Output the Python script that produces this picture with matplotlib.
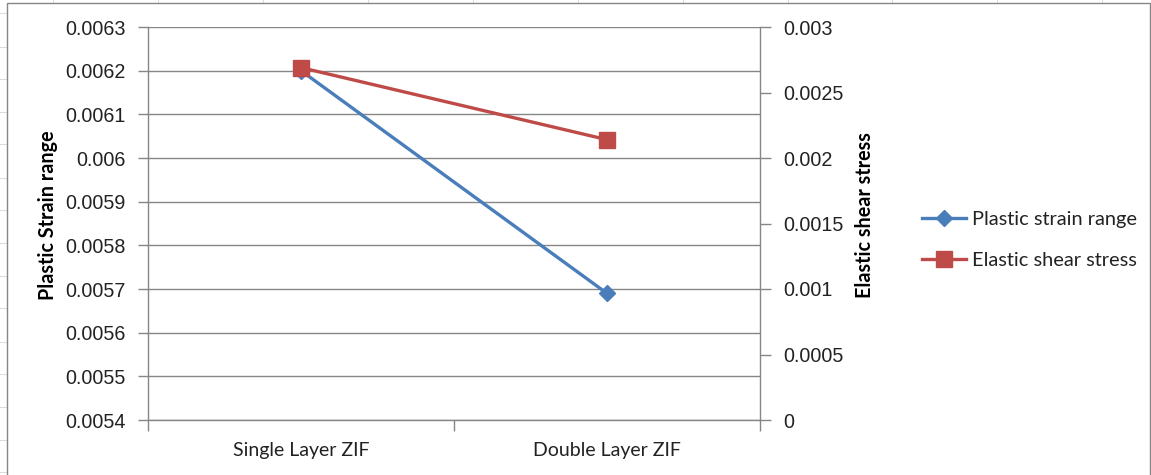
import matplotlib
matplotlib.use("Agg")
import matplotlib.pyplot as plt
from matplotlib.lines import Line2D
from matplotlib.patches import Rectangle

# ---------- data ----------
categories = ["Single Layer ZIF", "Double Layer ZIF"]
plastic_strain = [0.0062, 0.00569]
elastic_shear = [0.00269, 0.00214]

left_ticks = [0.0054, 0.0055, 0.0056, 0.0057, 0.0058, 0.0059, 0.006, 0.0061, 0.0062, 0.0063]
left_labels = ["0.0054", "0.0055", "0.0056", "0.0057", "0.0058", "0.0059", "0.006", "0.0061", "0.0062", "0.0063"]
right_ticks = [0, 0.0005, 0.001, 0.0015, 0.002, 0.0025, 0.003]
right_labels = ["0", "0.0005", "0.001", "0.0015", "0.002", "0.0025", "0.003"]

BLUE = "#4A7EBB"
RED = "#BE4B48"
GREY = "#868686"

W, H = 1151, 475
fig = plt.figure(figsize=(W / 100, H / 100), dpi=100)

def fx(px):
    return px / W

def fy(py):
    return 1 - py / H

# faint worksheet cell lines behind the chart object
for x in [53, 158, 263, 368, 473, 578, 683, 788, 892, 997, 1102]:
    fig.add_artist(Line2D([fx(x), fx(x)], [0, 1], color="#DADCDD", lw=0.8, zorder=0))
for y in [13, 47, 79, 112, 144, 178, 210, 243, 276, 308, 342, 374, 407, 440, 472]:
    fig.add_artist(Line2D([0, 1], [fy(y), fy(y)], color="#DADCDD", lw=0.8, zorder=0))

# chart frame
fig.add_artist(Rectangle((fx(7), fy(478)), fx(1150 - 7), (478 - 3) / H,
                         facecolor="white", edgecolor=GREY, lw=1.0, zorder=0.5))

ax = fig.add_axes([fx(148), fy(420), fx(760 - 148), (420 - 27) / H])
ax.set_zorder(2)
ax.patch.set_visible(False)
ax2 = ax.twinx()
ax2.set_zorder(3)
ax2.patch.set_visible(False)

x = list(range(len(categories)))

ax.plot(x, plastic_strain, color=BLUE, lw=2.4, marker="D", ms=8,
        mec=BLUE, mfc=BLUE, label="Plastic strain range", zorder=3)
ax2.plot(x, elastic_shear, color=RED, lw=2.4, marker="s", ms=11.5,
         mec=RED, mfc=RED, label="Elastic shear stress", zorder=3)

num_font = dict(family="Liberation Sans", size=14.2, color="#222222")

ax.set_xlim(-0.5, len(categories) - 0.5)
ax.set_ylim(0.0054, 0.0063)
ax2.set_ylim(0, 0.003)

ax.set_yticks(left_ticks)
ax.set_yticklabels(left_labels, fontdict=num_font)
ax2.set_yticks(right_ticks)
ax2.set_yticklabels(right_labels, fontdict=num_font)

ax.yaxis.grid(True, color=GREY, lw=1.0)
ax.set_axisbelow(True)

# category boundaries get the tick marks, names sit between them
ax.set_xticks([-0.5, 0.5, 1.5])
ax.set_xticklabels([])
ax.set_xticks(x, minor=True)
ax.set_xticklabels(categories, minor=True, family="Lato", size=14.0, color="#222222")
ax.tick_params(axis="x", which="major", length=8, width=1.0, color=GREY, direction="out")
ax.tick_params(axis="x", which="minor", length=0, pad=16)
ax.tick_params(axis="y", length=7, width=1.0, color=GREY, pad=9)
ax2.tick_params(axis="y", length=8, width=1.0, color=GREY, pad=9)

for a in (ax, ax2):
    a.spines["top"].set_visible(False)
    for side in ("left", "right", "bottom"):
        a.spines[side].set_color(GREY)
        a.spines[side].set_linewidth(1.0)
ax.spines["right"].set_visible(False)
ax2.spines["left"].set_visible(False)
ax2.spines["bottom"].set_visible(False)

fig.text(fx(48), fy(215), "Plastic Strain range", rotation=90, ha="center", va="center",
         family="Lato", weight="bold", size=14.2, color="black")
fig.text(fx(865), fy(215), "Elastic shear stress", rotation=90, ha="center", va="center",
         family="Lato", weight="bold", size=14.2, color="black")

h1, l1 = ax.get_legend_handles_labels()
h2, l2 = ax2.get_legend_handles_labels()
fig.legend(h1 + h2, l1 + l2, loc="center left", bbox_to_anchor=(fx(922), fy(240)),
           frameon=False, prop=dict(family="Lato", size=14.4), borderpad=0,
           handlelength=2.2, handletextpad=0.28, labelspacing=1.2, borderaxespad=0,
           labelcolor="#222222")

fig.savefig("out.png", dpi=100)
